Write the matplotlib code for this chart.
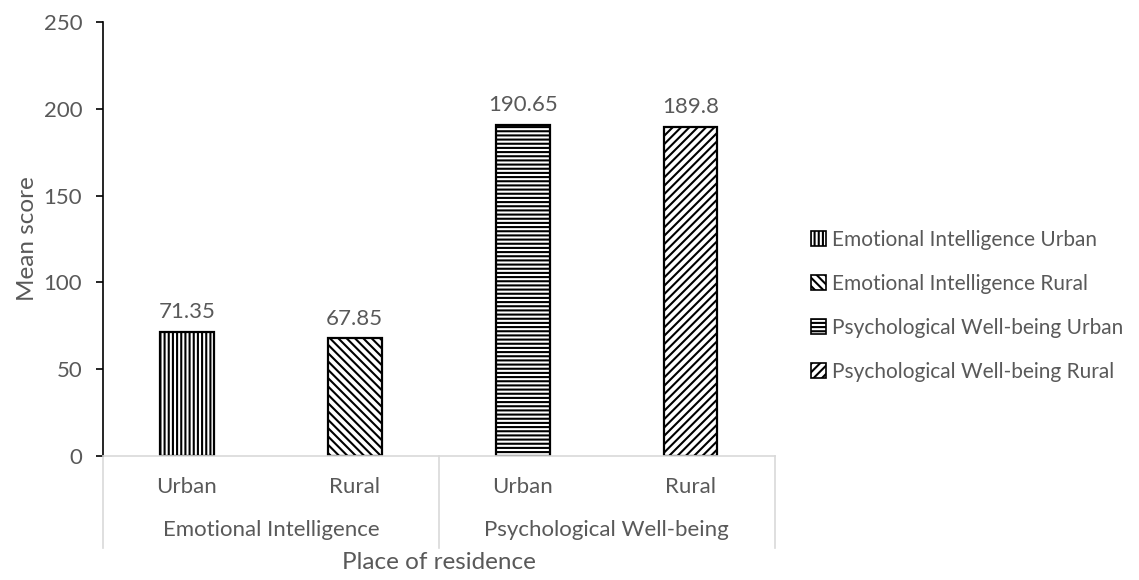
import numpy as np
import matplotlib
matplotlib.use('Agg')
import matplotlib.pyplot as plt
from matplotlib.patches import Patch
from matplotlib.transforms import blended_transform_factory

groups = ["Emotional Intelligence", "Psychological Well-being"]
places = ["Urban", "Rural", "Urban", "Rural"]
series = ["Emotional Intelligence Urban", "Emotional Intelligence Rural",
          "Psychological Well-being Urban", "Psychological Well-being Rural"]
values = [71.35, 67.85, 190.65, 189.8]
labels = ["71.35", "67.85", "190.65", "189.8"]
hatches = ["||||", "\\\\\\\\", "----", "////"]

plt.rcParams['font.family'] = ['Lato', 'DejaVu Sans']
plt.rcParams['hatch.linewidth'] = 1.5
txt = '#595959'
fs = 16

fig = plt.figure(figsize=(11.39, 5.80), dpi=100)
ax = fig.add_axes([0.0904, 0.2138, 0.5896, 0.748])

x = np.arange(len(values))
for i, v in enumerate(values):
    b = ax.bar(x[i], v, width=0.32, color='white', edgecolor='black',
               hatch=hatches[i], linewidth=1.6, label=series[i])
    ax.bar_label(b, labels=[labels[i]], padding=7, fontsize=fs, color=txt)

ax.set_xlim(-0.5, len(values) - 0.5)
ax.set_ylim(0, 250)
ax.set_yticks(np.arange(0, 251, 50))
ax.tick_params(axis='y', length=5, width=1.2, colors='black', labelcolor=txt, labelsize=fs, pad=10)
ax.set_xticks([])
for s in ['top', 'right']:
    ax.spines[s].set_visible(False)
ax.spines['left'].set_linewidth(1.2)
ax.spines['bottom'].set_color('#d9d9d9')
ax.spines['bottom'].set_linewidth(1.2)

trans = blended_transform_factory(ax.transData, ax.transAxes)
for i, p in enumerate(places):
    ax.text(x[i], -0.072, p, transform=trans, ha='center', va='center', fontsize=fs, color=txt)
for g, name in enumerate(groups):
    ax.text(x[2 * g] + 0.5, -0.17, name, transform=trans, ha='center', va='center', fontsize=fs, color=txt)
for xv in [-0.5, 1.5, 3.5]:
    ax.plot([xv, xv], [0, -0.212], transform=trans, color='#d9d9d9', lw=1.2, clip_on=False)

ax.text(0.5, -0.245, "Place of residence", transform=ax.transAxes, ha='center', va='center',
        fontsize=17.5, color=txt)
ax.set_ylabel("Mean score", fontsize=17.5, color=txt, labelpad=4)

handles = [Patch(facecolor='white', edgecolor='black', hatch=h, linewidth=1.2) for h in hatches]
fig.legend(handles, series, loc='center left', bbox_to_anchor=(0.712, 0.473), frameon=False,
           borderpad=0, borderaxespad=0, fontsize=15, labelspacing=1.15,
           handlelength=0.7, handleheight=0.7, handletextpad=0.3, labelcolor=txt)

fig.savefig('out.png', dpi=100)
